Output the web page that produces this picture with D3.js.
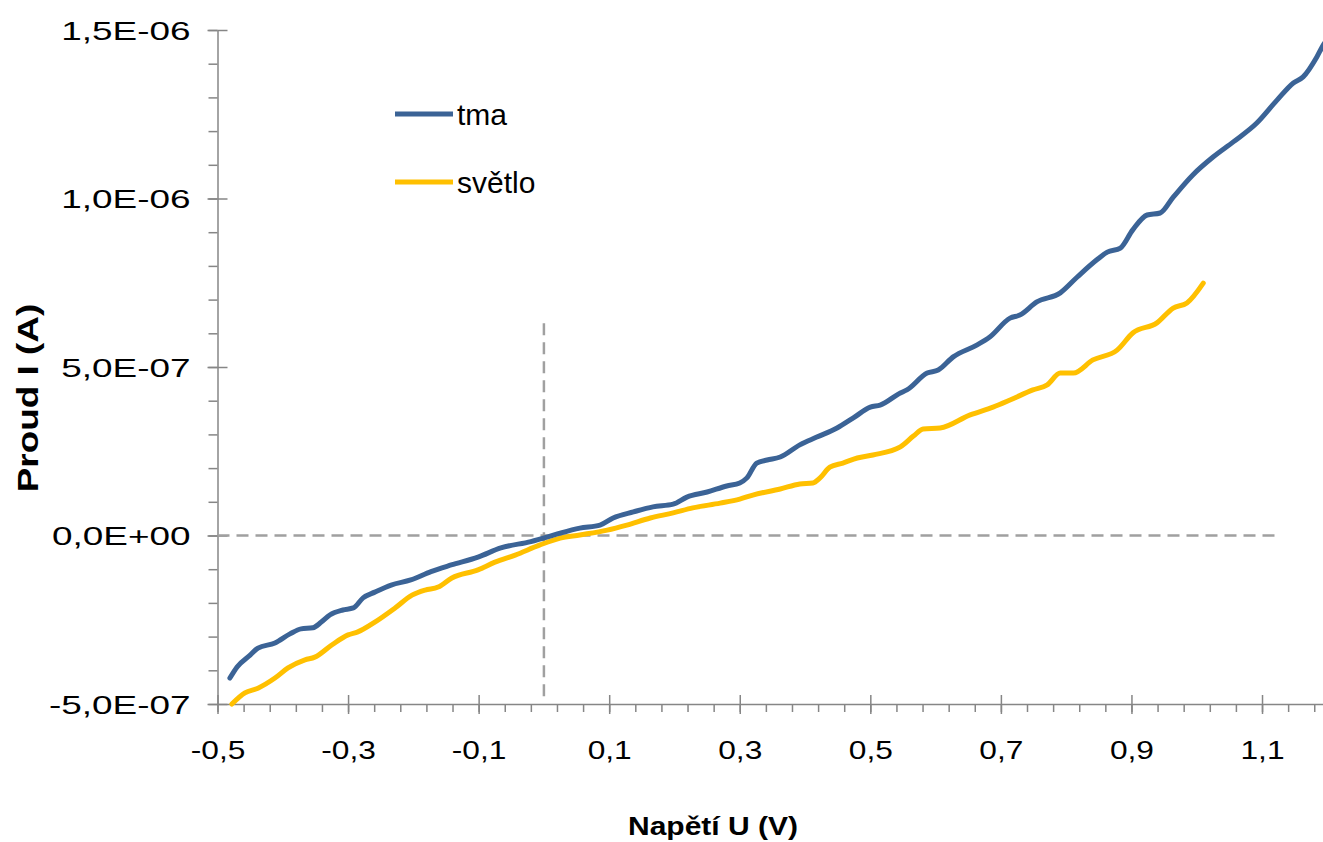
<!DOCTYPE html>
<html>
<head>
<meta charset="utf-8">
<script src="https://cdn.jsdelivr.net/npm/d3@7"></script>
<style>
  body { margin: 0; background: #fff; }
  svg { display: block; }
</style>
</head>
<body>
<script>
// napeti U (V) a proud I v jednotkach 1e-7 A
var tmaU = [-0.481,-0.470,-0.450,-0.438,-0.412,-0.389,-0.372,-0.354,-0.341,-0.328,-0.308,-0.292,-0.277,-0.259,-0.234,-0.204,-0.173,-0.142,-0.101,-0.066,-0.020,0.006,0.025,0.055,0.086,0.106,0.137,0.167,0.198,0.219,0.250,0.280,0.300,0.311,0.326,0.342,0.362,0.392,0.418,0.449,0.474,0.500,0.515,0.546,0.556,0.587,0.604,0.627,0.663,0.683,0.714,0.729,0.755,0.791,0.817,0.847,0.863,0.883,0.902,0.924,0.944,0.964,0.994,1.025,1.056,1.092,1.123,1.148,1.163,1.184,1.194,1.204];
var tmaI = [-4.23,-3.90,-3.55,-3.34,-3.19,-2.92,-2.77,-2.74,-2.57,-2.36,-2.21,-2.15,-1.85,-1.68,-1.47,-1.32,-1.07,-0.875,-0.64,-0.37,-0.18,-0.04,0.07,0.22,0.31,0.52,0.70,0.85,0.93,1.14,1.29,1.47,1.56,1.71,2.15,2.24,2.33,2.69,2.92,3.19,3.49,3.81,3.87,4.23,4.32,4.82,4.91,5.30,5.65,5.89,6.45,6.54,6.93,7.20,7.67,8.18,8.41,8.53,9.07,9.51,9.57,10.04,10.70,11.23,11.68,12.24,12.92,13.43,13.61,14.20,14.56,14.82];

var svetloU = [-0.478,-0.458,-0.438,-0.412,-0.392,-0.366,-0.351,-0.325,-0.300,-0.285,-0.259,-0.228,-0.202,-0.182,-0.162,-0.141,-0.101,-0.075,-0.044,-0.006,0.025,0.055,0.097,0.127,0.163,0.198,0.228,0.270,0.300,0.320,0.362,0.392,0.412,0.423,0.438,0.458,0.480,0.504,0.546,0.566,0.581,0.607,0.653,0.688,0.714,0.749,0.771,0.791,0.811,0.841,0.878,0.902,0.939,0.964,0.985,1.010];
var svetloI = [-5.0,-4.67,-4.53,-4.23,-3.93,-3.69,-3.61,-3.25,-2.95,-2.86,-2.57,-2.15,-1.77,-1.62,-1.53,-1.26,-1.02,-0.79,-0.58,-0.28,-0.08,0.015,0.16,0.31,0.52,0.67,0.82,0.96,1.08,1.20,1.38,1.53,1.56,1.71,2.03,2.15,2.30,2.39,2.63,2.95,3.16,3.19,3.58,3.81,4.02,4.32,4.47,4.82,4.82,5.21,5.50,6.01,6.31,6.75,6.90,7.49];

// pomocne carkovane cary
var nulaU = [-0.5, 1.125], nulaI = [0, 0];
var svislaU = [0, 0], svislaI = [6.3, -4.9];

var xTicks = [-0.5,-0.3,-0.1,0.1,0.3,0.5,0.7,0.9,1.1];
var xTickLabels = ["-0,5","-0,3","-0,1","0,1","0,3","0,5","0,7","0,9","1,1"];
var yTicks = [-5,0,5,10,15];
var yTickLabels = ["-5,0E-07","0,0E+00","5,0E-07","1,0E-06","1,5E-06"];

var serieNames = ["tma","světlo"];
var serieColors = ["#3b6396","#ffc000"];

var width = 1323, height = 842;
var font = "'Liberation Sans', Arial, sans-serif";

var x = d3.scaleLinear().domain([-0.5, 1.2]).range([217.5, 1327.3]);
var y = d3.scaleLinear().domain([-5, 15]).range([704, 30]);

var svg = d3.select("body").append("svg")
	.attr("width", width)
	.attr("height", height);

var axisColor = "#868686";

// minor ticks
var xMinor = d3.range(-0.5, 1.2001, 0.04).map(function(v){ return +v.toFixed(2); });
var yMinor = d3.range(-5, 15.001, 1);

svg.append("g")
	.attr("transform", "translate(0,704)")
	.call(d3.axisBottom(x).tickValues(xMinor).tickSize(8).tickFormat(""))
	.call(function(g){ g.select(".domain").remove(); });

svg.append("g")
	.attr("transform", "translate(217.5,0)")
	.call(d3.axisLeft(y).tickValues(yMinor).tickSize(9).tickFormat(""))
	.call(function(g){ g.select(".domain").remove(); });

// major ticks, across the axis
svg.append("g")
	.attr("transform", "translate(0,704)")
	.call(d3.axisTop(x).tickValues(xTicks).tickSize(9).tickFormat(""))
	.call(function(g){ g.select(".domain").remove(); });

svg.append("g")
	.attr("transform", "translate(217.5,0)")
	.call(d3.axisRight(y).tickValues(yTicks).tickSize(10).tickFormat(""))
	.call(function(g){ g.select(".domain").remove(); });

var xAxis = svg.append("g")
	.attr("transform", "translate(0,704)")
	.call(d3.axisBottom(x).tickValues(xTicks).tickSize(10).tickSizeOuter(0)
		.tickFormat(function(d, i){ return xTickLabels[i]; }));

xAxis.select(".domain").attr("d", "M" + x(-0.5) + ",0.5H" + x(1.2));
xAxis.selectAll("text")
	.attr("y", 46)
	.attr("dy", "0.35em")
	.attr("transform", "scale(1.22,1)");

var yAxis = svg.append("g")
	.attr("transform", "translate(217.5,0)")
	.call(d3.axisLeft(y).tickValues(yTicks).tickSize(10).tickSizeOuter(0)
		.tickFormat(function(d, i){ return yTickLabels[i]; }));

yAxis.selectAll("text")
	.attr("x", -27 / 1.42)
	.attr("dy", "0.35em")
	.attr("transform", "scale(1.42,1)");

svg.selectAll(".tick line, .domain")
	.attr("stroke", axisColor)
	.attr("stroke-width", 1.5);

svg.selectAll(".tick text")
	.attr("fill", "#000")
	.style("font-family", font)
	.style("font-size", "26px");

// carkovane cary
var line = d3.line()
	.x(function(d){ return x(d[0]); })
	.y(function(d){ return y(d[1]); });

[[nulaU, nulaI], [svislaU, svislaI]].forEach(function(p){
	svg.append("path")
		.datum(d3.zip(p[0], p[1]))
		.attr("d", line)
		.attr("fill", "none")
		.attr("stroke", "#a0a0a0")
		.attr("stroke-width", 2.5)
		.attr("stroke-dasharray", "12,7");
});

// krivky
var smooth = d3.line()
	.curve(d3.curveMonotoneX)
	.x(function(d){ return x(d[0]); })
	.y(function(d){ return y(d[1]); });

var series = [d3.zip(tmaU, tmaI), d3.zip(svetloU, svetloI)];

// svetlo pod, tma nahore
svg.selectAll(".serie")
	.data([1, 0])
	.enter().append("path")
		.attr("class", "serie")
		.attr("d", function(i){ return smooth(series[i]); })
		.attr("fill", "none")
		.attr("stroke", function(i){ return serieColors[i]; })
		.attr("stroke-width", 5)
		.attr("stroke-linejoin", "round")
		.attr("stroke-linecap", "round");

// legenda
var legY = [114, 182];
serieNames.forEach(function(name, i){
	svg.append("line")
		.attr("x1", 395).attr("x2", 453)
		.attr("y1", legY[i]).attr("y2", legY[i])
		.attr("stroke", serieColors[i])
		.attr("stroke-width", 5);
	svg.append("text")
		.attr("x", 457)
		.attr("y", legY[i] + 11)
		.style("font-family", font)
		.style("font-size", "30px")
		.attr("fill", "#000")
		.text(name);
});

// popisky os
svg.append("text")
	.attr("transform", "translate(713,835) scale(1.2,1)")
	.attr("text-anchor", "middle")
	.style("font-family", font)
	.style("font-weight", "bold")
	.style("font-size", "25px")
	.text("Napětí U (V)");

svg.append("text")
	.attr("transform", "translate(38,398) scale(1.15,1.42) rotate(-90)")
	.attr("text-anchor", "middle")
	.style("font-family", font)
	.style("font-weight", "bold")
	.style("font-size", "26px")
	.text("Proud I (A)");
</script>
</body>
</html>
